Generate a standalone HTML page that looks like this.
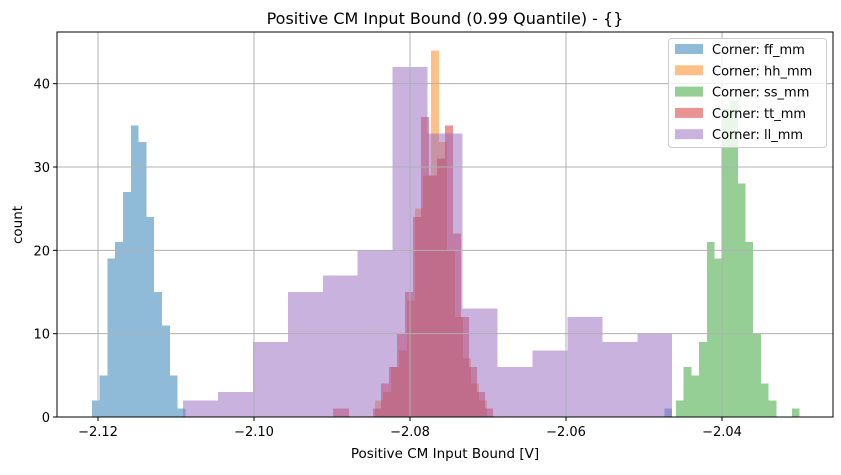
<!DOCTYPE html>
<html><head><meta charset="utf-8"><style>
body{margin:0;background:#fff;}
svg text{font-family:"DejaVu Sans","Liberation Sans",sans-serif;fill:#000;}
</style></head><body>
<svg id="chart" width="841" height="470" xmlns="http://www.w3.org/2000/svg">
<text x="445" y="24" font-size="16" text-anchor="middle">Positive CM Input Bound (0.99 Quantile) - {}</text>
<g id="bars" shape-rendering="crispEdges"></g>
<g id="grid"></g>
<rect x="57" y="32" width="776" height="385" fill="none" stroke="#000" stroke-width="1"/>
<g id="axes"></g>
<text x="445" y="458" font-size="13.5" text-anchor="middle">Positive CM Input Bound [V]</text>
<text transform="translate(22,225) rotate(-90)" font-size="13.5" text-anchor="middle">count</text>
<g id="legend"></g>
</svg>
<script>
const ffStart = -2.1208, ffWidth = 0.001;
const ffCounts = [2,5,19,21,27,35,33,24,15,11,5,1];
const ffExtraValues = [-2.0474];
const ffExtraCounts = [1];
const hhStart = -2.08449, hhWidth = 0.001026;
const hhCounts = [2,3,6,8,14,25,29,44,33,20,12,7,4,2];
const ssStart = -2.0459, ssWidth = 0.00099;
const ssCounts = [2,6,5,9,21,19,37,38,28,21,10,4,2,0,0,1];
const ttStart = -2.08987, ttWidth = 0.001026;
const ttCounts = [1,1,0,0,0,1,4,6,10,15,24,36,29,31,35,22,12,6,3,1];
const llStart = -2.1091, llWidth = 0.00448;
const llCounts = [2,3,9,15,17,20,42,34,13,6,8,12,9,10];
const xTicks = [-2.12,-2.10,-2.08,-2.06,-2.04];
const xTickLabels = ["\u22122.12","\u22122.10","\u22122.08","\u22122.06","\u22122.04"];
const yTicks = [0,10,20,30,40];
const seriesNames = ["Corner: ff_mm","Corner: hh_mm","Corner: ss_mm","Corner: tt_mm","Corner: ll_mm"];

const NS = "http://www.w3.org/2000/svg";
const X0 = 57, X1 = 833, Y0 = 417, Y1 = 32;
function xs(v){ return 98 + (v + 2.12) * 7800; }
function ys(c){ return 417 - c * 8.333; }
function mk(tag, attrs, parent){
  const e = document.createElementNS(NS, tag);
  for (const k in attrs) e.setAttribute(k, attrs[k]);
  parent.appendChild(e); return e;
}
const grid = document.getElementById('grid');
const axes = document.getElementById('axes');
const bars = document.getElementById('bars');
const legend = document.getElementById('legend');

xTicks.forEach((t,i)=>{
  const x = xs(t);
  const gl = mk('line',{x1:x,x2:x,y1:Y1,y2:Y0,stroke:'#b0b0b0','stroke-width':1},grid);
  
  
  const tk = mk('line',{x1:x,x2:x,y1:Y0,y2:Y0+4,stroke:'#000'},axes);
  
  
  const tl = mk('text',{x:x,y:Y0+19,'font-size':13,'text-anchor':'middle'},axes);
  tl.textContent = xTickLabels[i];
  
  
});
yTicks.forEach(t=>{
  const y = ys(t);
  const gl = mk('line',{x1:X0,x2:X1,y1:y,y2:y,stroke:'#b0b0b0','stroke-width':1},grid);
  
  
  const tk = mk('line',{x1:X0-4,x2:X0,y1:y,y2:y,stroke:'#000'},axes);
  
  
  const tl = mk('text',{x:X0-7,y:y+5,'font-size':13,'text-anchor':'end'},axes);
  tl.textContent = String(t);
  
  
});

const colors = ['#1f77b4','#ff7f0e','#2ca02c','#d62728','#9467bd'];
function drawHist(start, width, counts, color, name){
  counts.forEach((c,i)=>{
    if (!c) return;
    const xa = xs(start + i*width), xb = xs(start + (i+1)*width);
    const r = mk('rect',{x:xa,y:ys(c),width:xb-xa,height:Y0-ys(c),fill:color,'fill-opacity':0.5},bars);
    
    
  });
}
drawHist(ffStart, ffWidth, ffCounts, colors[0], 'ff-mm-bar');
ffExtraValues.forEach((v,i)=>{
  const xa = xs(v), xb = xs(v+ffWidth);
  const r = mk('rect',{x:xa,y:ys(ffExtraCounts[i]),width:xb-xa,height:Y0-ys(ffExtraCounts[i]),fill:colors[0],'fill-opacity':0.5},bars);
  
  
});
drawHist(hhStart, hhWidth, hhCounts, colors[1], 'hh-mm-bar');
drawHist(ssStart, ssWidth, ssCounts, colors[2], 'ss-mm-bar');
drawHist(ttStart, ttWidth, ttCounts, colors[3], 'tt-mm-bar');
drawHist(llStart, llWidth, llCounts, colors[4], 'll-mm-bar');

const lb = mk('rect',{x:668.5,y:38.5,width:158,height:109,rx:3,fill:'#fff','fill-opacity':0.8,stroke:'#ccc'},legend);


seriesNames.forEach((n,i)=>{
  const y = 49 + i*21.3;
  const sw = mk('rect',{x:675,y:y-5,width:28,height:10,fill:colors[i],'fill-opacity':0.5},legend);
  
  
  const t = mk('text',{x:712,y:y+5,'font-size':13},legend);
  t.textContent = n;
  
  
});
</script>
</body></html>
